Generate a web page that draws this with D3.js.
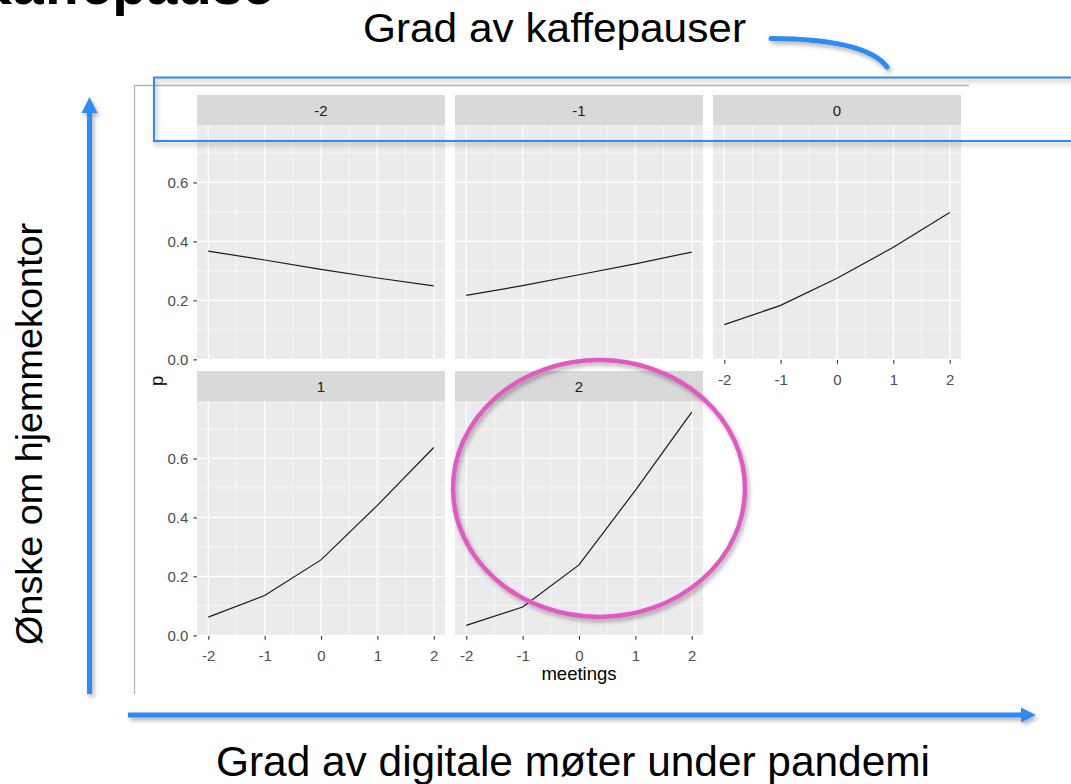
<!DOCTYPE html>
<html>
<head>
<meta charset="utf-8">
<script src="https://cdn.jsdelivr.net/npm/d3@7"></script>
<style>
  body { margin: 0; background: #fff; }
  svg { display: block; font-family: "Liberation Sans", Arial, sans-serif; }
</style>
</head>
<body>
<div id="chart"></div>
<script>
// facets: grad av kaffepauser, x: meetings, y: p
var coffeeLevels = [-2, -1, 0, 1, 2];
var meetings = [-2, -1, 0, 1, 2];
var pCoffeeM2 = [0.367, 0.337, 0.305, 0.276, 0.249];
var pCoffeeM1 = [0.217, 0.250, 0.287, 0.324, 0.364];
var pCoffee0  = [0.118, 0.183, 0.275, 0.380, 0.498];
var pCoffee1  = [0.062, 0.135, 0.256, 0.441, 0.637];
var pCoffee2  = [0.034, 0.096, 0.239, 0.492, 0.757];
var pByCoffee = [pCoffeeM2, pCoffeeM1, pCoffee0, pCoffee1, pCoffee2];
var xTicks = [-2, -1, 0, 1, 2];
var yTicks = [0, 0.2, 0.4, 0.6];

var W = 1071, H = 784;
var blue = '#2f8af5';

var svg = d3.select('#chart').append('svg').attr('width', W).attr('height', H);

var filter = svg.append('defs').append('filter').attr('id', 'shadow')
    .attr('x', '-20%').attr('y', '-20%').attr('width', '140%').attr('height', '140%');
filter.append('feDropShadow').attr('dx', 2).attr('dy', 3)
    .attr('stdDeviation', 2).attr('flood-color', '#000').attr('flood-opacity', 0.3);

// frame of the pasted ggplot picture
svg.append('line').attr('x1', 134).attr('y1', 85.5).attr('x2', 969).attr('y2', 85.5)
    .attr('stroke', '#b4b4b4').attr('stroke-width', 1.3);
svg.append('line').attr('x1', 134.5).attr('y1', 85.5).attr('x2', 134.5).attr('y2', 694)
    .attr('stroke', '#b4b4b4').attr('stroke-width', 1.3);

// facet layout
var panelW = 248, panelH = 234.5, stripH = 30.5;
var colX = [197, 455, 713], rowY = [95, 371];

var allP = d3.merge(pByCoffee);
var pExt = d3.extent(allP), pPad = (pExt[1] - pExt[0]) * 0.05;
var mExt = d3.extent(meetings), mPad = (mExt[1] - mExt[0]) * 0.05;

var x = d3.scaleLinear().domain([mExt[0] - mPad, mExt[1] + mPad]).range([0, panelW]);
var y = d3.scaleLinear().domain([pExt[0] - pPad, pExt[1] + pPad]).range([panelH, 0]);

var xMinor = xTicks.slice(1).map(function (t) { return t - 0.5; });
var yMinor = yTicks.map(function (t) { return +(t + 0.1).toFixed(1); });

var line = d3.line()
    .x(function (d) { return x(d.m); })
    .y(function (d) { return y(d.p); });

function styleAxis(g) {
    g.select('.domain').remove();
    g.selectAll('.tick line').attr('stroke', '#333').attr('stroke-width', 1.1);
    g.selectAll('.tick text').attr('fill', '#4d4d4d').attr('font-size', 15)
        .attr('font-family', '"Liberation Sans", Arial, sans-serif');
}

coffeeLevels.forEach(function (level, i) {
    var col = i % 3, row = Math.floor(i / 3);
    var g = svg.append('g').attr('transform', 'translate(' + colX[col] + ',' + rowY[row] + ')');

    g.append('rect').attr('width', panelW).attr('height', stripH).attr('fill', '#d9d9d9');
    g.append('text').attr('x', panelW / 2).attr('y', stripH / 2 + 5.5)
        .attr('text-anchor', 'middle').attr('font-size', 15).attr('fill', '#1a1a1a')
        .text(String(level));

    var p = g.append('g').attr('transform', 'translate(0,' + stripH + ')');
    p.append('rect').attr('width', panelW).attr('height', panelH).attr('fill', '#ebebeb');

    p.selectAll('.xminor').data(xMinor).enter().append('line')
        .attr('x1', x).attr('x2', x).attr('y1', 0).attr('y2', panelH)
        .attr('stroke', '#fff').attr('stroke-width', 0.6);
    p.selectAll('.yminor').data(yMinor).enter().append('line')
        .attr('y1', y).attr('y2', y).attr('x1', 0).attr('x2', panelW)
        .attr('stroke', '#fff').attr('stroke-width', 0.6);
    p.selectAll('.xmajor').data(xTicks).enter().append('line')
        .attr('x1', x).attr('x2', x).attr('y1', 0).attr('y2', panelH)
        .attr('stroke', '#fff').attr('stroke-width', 1.2);
    p.selectAll('.ymajor').data(yTicks).enter().append('line')
        .attr('y1', y).attr('y2', y).attr('x1', 0).attr('x2', panelW)
        .attr('stroke', '#fff').attr('stroke-width', 1.2);

    var pts = meetings.map(function (m, j) { return { m: m, p: pByCoffee[i][j] }; });
    p.append('path').datum(pts).attr('d', line)
        .attr('fill', 'none').attr('stroke', '#1a1a1a').attr('stroke-width', 1.2);

    if (col === 0) {
        p.append('g').call(d3.axisLeft(y).tickValues(yTicks).tickSize(3.7).tickPadding(5)
            .tickFormat(d3.format('.1f'))).call(styleAxis);
    }
    // x axis under the lowest panel of each column
    if (row === 1 || col === 2) {
        var ax = p.append('g').attr('transform', 'translate(0,' + panelH + ')')
            .call(d3.axisBottom(x).tickValues(xTicks).tickSize(3.7)
                .tickFormat(function (d) { return String(d); }))
            .call(styleAxis);
        ax.selectAll('.tick text').attr('y', 25).attr('dy', 0);
    }
});

// axis titles
var panelsLeft = colX[0], panelsRight = colX[2] + panelW;
svg.append('text').attr('x', (panelsLeft + panelsRight) / 2).attr('y', 680)
    .attr('text-anchor', 'middle').attr('font-size', 18.5).attr('fill', '#000')
    .text('meetings');
svg.append('text')
    .attr('transform', 'translate(163,' + ((rowY[0] + stripH + rowY[1] + stripH + panelH) / 2) + ') rotate(-90)')
    .attr('text-anchor', 'middle').attr('font-size', 18.5).attr('fill', '#000')
    .text('p');

// slide annotations
svg.append('rect').attr('x', 154).attr('y', 77.5).attr('width', 930).attr('height', 63.5)
    .attr('fill', 'none').attr('stroke', blue).attr('stroke-width', 2)
    .attr('filter', 'url(#shadow)');

svg.append('ellipse').attr('cx', 599).attr('cy', 488.5).attr('rx', 146).attr('ry', 128.5)
    .attr('fill', 'none').attr('stroke', '#e05ac1').attr('stroke-width', 4.5)
    .attr('filter', 'url(#shadow)');

var arrows = svg.append('g').attr('filter', 'url(#shadow)');
arrows.append('line').attr('x1', 89.5).attr('y1', 694).attr('x2', 89.5).attr('y2', 112)
    .attr('stroke', blue).attr('stroke-width', 5);
arrows.append('path').attr('d', 'M89.5,97 L97.5,113 L81.5,113 Z').attr('fill', blue);
arrows.append('line').attr('x1', 128).attr('y1', 715).attr('x2', 1022).attr('y2', 715)
    .attr('stroke', blue).attr('stroke-width', 5);
arrows.append('path').attr('d', 'M1036,715 L1021,707.5 L1021,722.5 Z').attr('fill', blue);
arrows.append('path').attr('d', 'M771,38.5 Q866,39 887,67')
    .attr('fill', 'none').attr('stroke', blue).attr('stroke-width', 5)
    .attr('stroke-linecap', 'round');

svg.append('text').attr('x', 274).attr('y', 4).attr('text-anchor', 'end')
    .attr('font-size', 56).attr('font-weight', 'bold').attr('fill', '#000')
    .text('Kaffepause');

svg.append('text').attr('x', 363).attr('y', 42).attr('font-size', 40)
    .attr('textLength', 383).attr('lengthAdjust', 'spacingAndGlyphs').attr('fill', '#000')
    .text('Grad av kaffepauser');

svg.append('text').attr('x', 216).attr('y', 776).attr('font-size', 42)
    .attr('textLength', 714).attr('lengthAdjust', 'spacingAndGlyphs').attr('fill', '#000')
    .text('Grad av digitale møter under pandemi');

svg.append('text').attr('transform', 'translate(42,434) rotate(-90)')
    .attr('text-anchor', 'middle').attr('font-size', 36)
    .attr('textLength', 422).attr('lengthAdjust', 'spacingAndGlyphs').attr('fill', '#000')
    .text('Ønske om hjemmekontor');
</script>
</body>
</html>
